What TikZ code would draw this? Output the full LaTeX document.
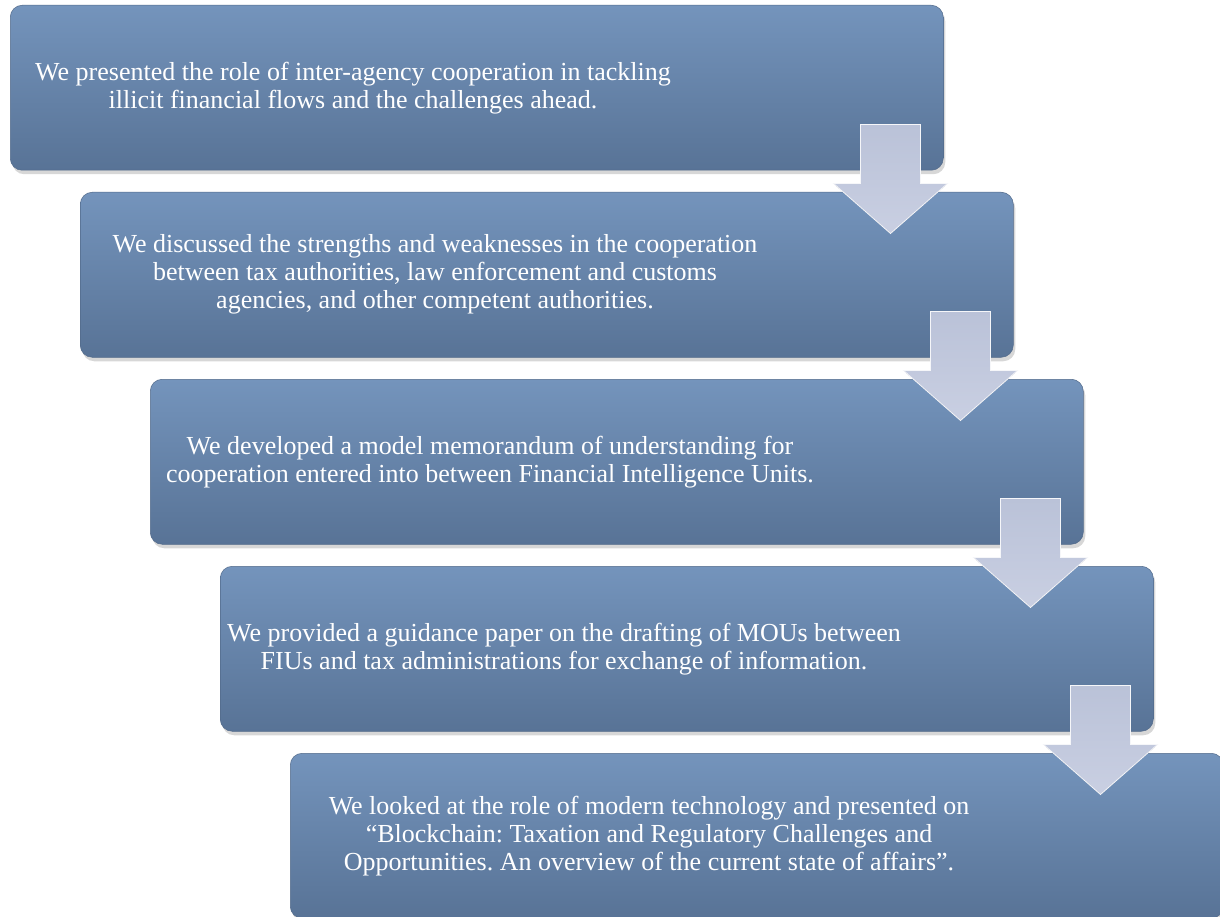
\documentclass[tikz,border=0pt]{standalone}
\usepackage{fontspec}
\setmainfont{Liberation Serif}
\usepackage{tikz}
\usetikzlibrary{calc,shadows}
\frenchspacing

\definecolor{boxtop}{RGB}{116,148,188}
\definecolor{boxbot}{RGB}{88,115,150}
\definecolor{boxedge}{RGB}{82,106,138}
\definecolor{arrtop}{RGB}{186,194,216}
\definecolor{arrbot}{RGB}{201,207,226}

\tikzset{
  stepbox/.style={rounded corners=12pt, minimum width=933pt, minimum height=165pt,
    inner sep=0pt, anchor=north west, top color=boxtop, bottom color=boxbot,
    draw=boxedge, line width=0.5pt,
    drop shadow={shadow xshift=2pt, shadow yshift=-4pt, opacity=0.35, fill=black!45}},
  steptext/.style={text=white, align=center, font=\fontsize{26}{28}\selectfont, inner sep=0pt},
  flowarrow/.style={top color=arrtop, bottom color=arrbot, draw=white!85!arrtop,
    line width=0.8pt, line join=miter}
}

\begin{document}
\begin{tikzpicture}[line cap=round,x=1pt,y=-1pt]
\useasboundingbox (0,0) rectangle (1220,917);
\clip (0,0) rectangle (1220,917);

% steps
\node[stepbox] (b1) at (10,5) {};
\node[stepbox] (b2) at (80,192) {};
\node[stepbox] (b3) at (150,379) {};
\node[stepbox] (b4) at (220,566) {};
\node[stepbox] (b5) at (290,753) {};

\node[steptext] (t1) at ([xshift=343pt]b1.west) {We presented the role of inter-agency cooperation in tackling\\illicit financial flows and the challenges ahead.};
\node[steptext] (t2) at ([xshift=355pt]b2.west) {We discussed the strengths and weaknesses in the cooperation\\between tax authorities, law enforcement and customs\\agencies, and other competent authorities.};
\node[steptext] (t3) at ([xshift=340pt]b3.west) {We developed a model memorandum of understanding for\\cooperation entered into between Financial Intelligence Units.};
\node[steptext] (t4) at ([xshift=344pt]b4.west) {We provided a guidance paper on the drafting of MOUs between\\FIUs and tax administrations for exchange of information.};
\node[steptext] (t5) at ([xshift=359pt]b5.west) {We looked at the role of modern technology and presented on\\``Blockchain: Taxation and Regulatory Challenges and\\Opportunities. An overview of the current state of affairs''.};

% arrows between steps
\foreach \a in {b1,b2,b3,b4}{
  \filldraw[flowarrow] ($(\a.south east)+(-83,-46)$) -- ++(60,0) -- ++(0,59) -- ++(27,0)
    -- ++(-57,50) -- ++(-57,-50) -- ++(27,0) -- cycle;
}
\end{tikzpicture}
\end{document}
